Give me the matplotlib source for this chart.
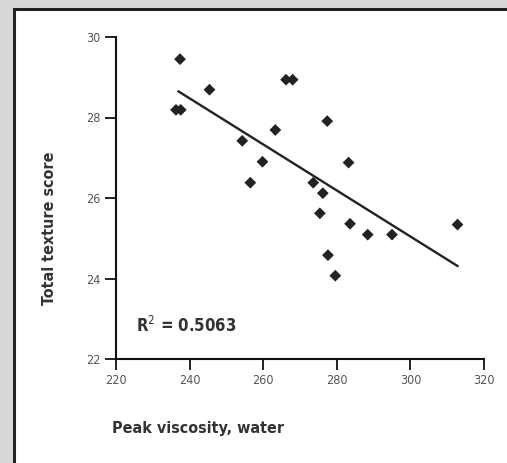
import matplotlib.pyplot as plt
from matplotlib.patches import Rectangle
import numpy as np

plt.rcParams["font.family"] = ["Liberation Sans Narrow", "DejaVu Sans"]
plt.rcParams["font.stretch"] = "condensed"

# peak viscosity (water) vs total texture score
viscosity = np.array([237.4, 236.3, 237.6, 245.4, 266.2, 268.0, 277.4, 263.3,
                      254.3, 259.8, 283.2, 256.5, 273.6, 276.2, 275.4, 283.6,
                      288.4, 295.0, 312.8, 277.6, 279.6])
texture = np.array([29.45, 28.19, 28.19, 28.69, 28.94, 28.94, 27.91, 27.69,
                    27.42, 26.90, 26.88, 26.38, 26.38, 26.12, 25.62, 25.36,
                    25.09, 25.09, 25.34, 24.58, 24.07])
x_ticks = [220, 240, 260, 280, 300, 320]
y_ticks = [22, 24, 26, 28, 30]
r2_label = "R$^2$ = 0.5063"

fig = plt.figure(figsize=(5.07, 4.63), dpi=100)
fig.patch.set_facecolor("#d8d8d8")

# white panel with dark border
panel = Rectangle((14 / 507, -0.05), 1.1, 1 - 9 / 463 + 0.05,
                  transform=fig.transFigure, facecolor="white",
                  edgecolor="#222222", linewidth=2.2, zorder=-10)
fig.patches.append(panel)

ax = fig.add_axes([116 / 507, 1 - 359 / 463, 368 / 507, 322 / 463])
ax.set_facecolor("none")
ax.set_zorder(5)

ax.scatter(viscosity, texture, marker="D", s=36, color="#222222",
           edgecolors="none", zorder=3)

slope, intercept = np.polyfit(viscosity, texture, 1)
xl = np.array([237.0, viscosity.max()])
ax.plot(xl, slope * xl + intercept, color="#222222", linewidth=1.7)

ax.set_xlim(220, 320)
ax.set_ylim(22, 30)
ax.set_xticks(x_ticks)
ax.set_yticks(y_ticks)
ax.tick_params(direction="out", length=8, width=1.3, labelsize=9,
               labelcolor="#555555", color="#111111", pad=3)
for s in ["top", "right"]:
    ax.spines[s].set_visible(False)
for s in ["left", "bottom"]:
    ax.spines[s].set_linewidth(1.5)
    ax.spines[s].set_color("#111111")

ax.text(225.5, 22.83, r2_label, fontsize=12, color="#333333",
        fontweight="bold", va="center", ha="left")

fig.text(112 / 507, 1 - 428 / 463, "Peak viscosity, water", fontsize=11.5,
         color="#333333", fontweight="bold", va="center", ha="left")
fig.text(50 / 507, 1 - 228 / 463, "Total texture score", fontsize=11.5,
         color="#333333", fontweight="bold", va="center", ha="center",
         rotation=90)

fig.savefig("out.png", dpi=100, facecolor=fig.get_facecolor())
